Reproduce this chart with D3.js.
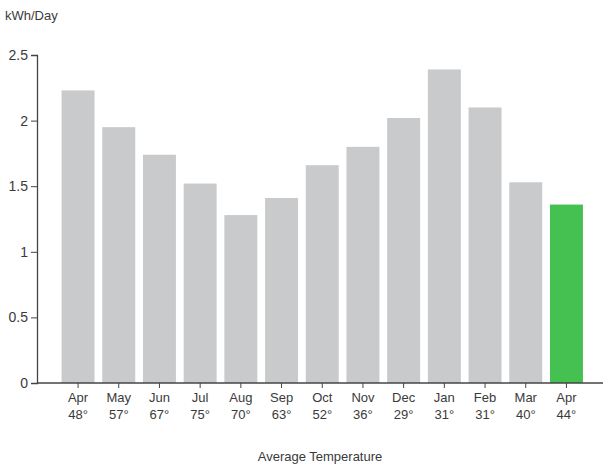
<!DOCTYPE html>
<html>
<head>
<meta charset="utf-8">
<script src="https://cdn.jsdelivr.net/npm/d3@7"></script>
<style>
  html, body { margin: 0; padding: 0; background: #fff; }
  svg text { font-family: "Liberation Sans Narrow", "Liberation Sans", Arial, sans-serif; fill: #3a3a3a; }
</style>
</head>
<body>
<svg id="chart" width="603" height="470"></svg>
<script>
// Monthly energy use (kWh per day) with average temperature for each month
const months = ["Apr", "May", "Jun", "Jul", "Aug", "Sep", "Oct", "Nov", "Dec", "Jan", "Feb", "Mar", "Apr"];
const temps = ["48°", "57°", "67°", "75°", "70°", "63°", "52°", "36°", "29°", "31°", "31°", "40°", "44°"];
const kwhPerDay = [2.23, 1.95, 1.74, 1.52, 1.28, 1.41, 1.66, 1.80, 2.02, 2.39, 2.10, 1.53, 1.36];
const yTicks = [0, 0.5, 1, 1.5, 2, 2.5];

const svg = d3.select("#chart");
const x0 = 37, yBase = 383, yTop = 55;

const x = d3.scaleBand()
  .domain(d3.range(months.length))
  .range([57.5, 587])
  .paddingInner(0.19)
  .paddingOuter(0.1);

const y = d3.scaleLinear().domain([0, 2.5]).range([yBase, yTop]);

// bars: the current month highlighted in green
svg.append("g").selectAll("rect")
  .data(kwhPerDay)
  .join("rect")
  .attr("x", (d, i) => x(i))
  .attr("width", x.bandwidth())
  .attr("y", d => y(d))
  .attr("height", d => y(0) - y(d))
  .attr("fill", (d, i) => i === kwhPerDay.length - 1 ? "#45c152" : "#c9cacc");

// y axis
const yAxis = svg.append("g")
  .attr("transform", `translate(${x0},0)`)
  .call(d3.axisLeft(y).tickValues(yTicks).tickFormat(d => d).tickSize(6).tickPadding(3));
yAxis.select(".domain").attr("stroke", "#444").attr("stroke-width", 1.3);
yAxis.selectAll(".tick line").attr("stroke", "#444");
yAxis.selectAll("text").style("font-size", "14px").attr("fill", "#3a3a3a");

// x axis line across the full width
svg.append("line")
  .attr("x1", x0).attr("x2", 603)
  .attr("y1", yBase).attr("y2", yBase)
  .attr("stroke", "#444").attr("stroke-width", 1.3);

// x ticks and two-line labels (month, temperature)
const xt = svg.append("g").selectAll("g")
  .data(months)
  .join("g")
  .attr("transform", (d, i) => `translate(${x(i) + x.bandwidth() / 2},${yBase})`);
xt.append("line").attr("y1", 0).attr("y2", 5).attr("stroke", "#444");
xt.append("text")
  .attr("y", 19).attr("text-anchor", "middle")
  .style("font-size", "13px")
  .text(d => d);
xt.append("text")
  .attr("y", 36).attr("text-anchor", "middle")
  .style("font-size", "13px")
  .text((d, i) => temps[i]);

// axis titles
svg.append("text")
  .attr("x", 5).attr("y", 20)
  .style("font-size", "13px")
  .text("kWh/Day");
svg.append("text")
  .attr("x", 320).attr("y", 461)
  .attr("text-anchor", "middle")
  .style("font-size", "13px")
  .text("Average Temperature");
</script>
</body>
</html>
